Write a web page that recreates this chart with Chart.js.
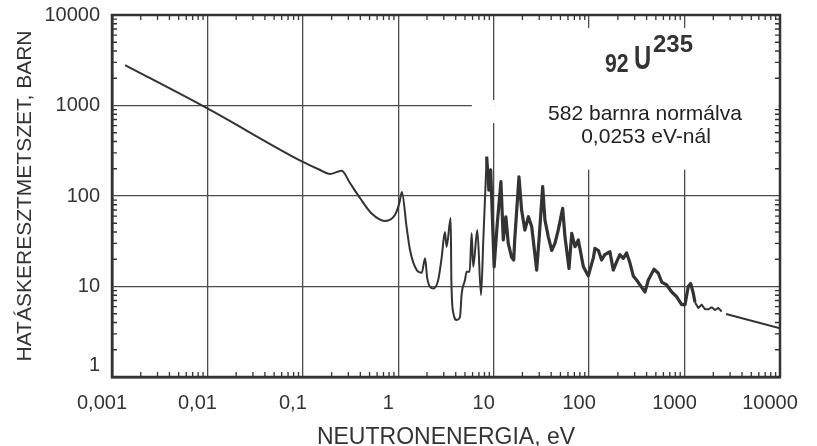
<!DOCTYPE html>
<html>
<head>
<meta charset="utf-8">
<script src="https://cdn.jsdelivr.net/npm/chart.js@4.4.0/dist/chart.umd.min.js"></script>
<style>
  html, body { margin: 0; padding: 0; background: #fff; }
  #wrap { width: 817px; height: 446px; position: relative; }
</style>
</head>
<body>
<div id="wrap"><canvas id="u235Chart"></canvas></div>
<script>
// neutron energy (eV) and cross section (barn)
// smooth low-energy part
const energyLow = [
  0.00137, 0.01, 0.1, 0.15, 0.192, 0.255, 0.312, 0.397, 0.526, 0.727, 0.925, 1.03, 1.09,
  1.22, 1.33, 1.56, 1.76, 1.91, 2.01, 2.33, 2.62, 2.85, 3.08, 3.21, 3.54, 3.6, 3.78, 4.09,
  4.43, 4.62, 5.0, 5.2, 5.6, 5.87, 6.1, 6.73, 7.36, 7.78, 8.44
];
const sigmaLow = [
  2800, 930, 238, 195, 175, 190, 139, 95, 64, 53, 62, 85, 111,
  46, 25, 15.2, 14.2, 20.5, 12.3, 9.5, 11.8, 21, 40, 27.5, 57, 11.8, 5.06, 4.27,
  4.6, 8.4, 11.8, 14.6, 14.6, 38.7, 16.5, 42, 8.06, 32.7, 272
];
// resonance region and tail
const energyHigh = [
  8.44, 8.9, 9.3, 10.1, 10.9, 11.9, 12.6, 13.4, 14.2, 15.4, 16.2, 16.6, 18.4, 19.6, 21.2,
  23.1, 25, 28.2, 30, 32.6, 34.4, 37.3, 40.5, 43.8, 47.4, 52.8, 55.8, 61.5, 65.7, 71.1,
  77, 87, 98, 111, 115, 125, 135, 146, 165, 179, 194, 210, 228, 247, 267, 290, 314, 341,
  385, 417, 478, 531, 576, 650, 733, 827, 933, 1010, 1094, 1159, 1235, 1285, 1392, 1510,
  1636, 1770, 1924, 2083, 2254, 2447, 2580, 2718, 10000
];
const sigmaHigh = [
  272, 116, 194, 16.5, 50, 144, 32.7, 59, 30, 21, 19.6, 32.7, 163, 70, 42,
  59, 46, 15.2, 35.6, 127, 54.5, 35.6, 25, 30, 42, 73, 35.6, 15.8, 38.7, 27.5,
  32.7, 16.5, 13.1, 21, 26.4, 25, 19.6, 22.5, 24.2, 15.2, 18.7, 22.5, 20.5, 23.5, 18.4, 13.1, 11.8, 10.4,
  8.7, 11.8, 15.5, 14, 11.2, 10.4, 8.7, 7.7, 6.3, 6.3, 10, 10.8, 8.4, 6.7, 5.8, 6.3,
  5.6, 5.6, 5.9, 5.5, 5.8, 5.3, null, 4.97, 3.45
];
const xTicks = [0.001, 0.01, 0.1, 1, 10, 100, 1000, 10000];
const xTickLabels = ["0,001", "0,01", "0,1", "1", "10", "100", "1000", "10000"];
const yTicks = [1, 10, 100, 1000, 10000];
const yTickLabels = ["1", "10", "100", "1000", "10000"];

const ink = "#333";
const gridInk = "#4a4a4a";
const font = "'Liberation Sans', Arial, sans-serif";

// white patch where the grid is interrupted behind the label text
const paperPlugin = {
  id: "paper",
  beforeDatasetsDraw(chart) {
    const { ctx, chartArea, scales: { x, y } } = chart;
    const x10 = x.getPixelForValue(10);
    ctx.save();
    ctx.fillStyle = "#fff";
    let top = y.getPixelForValue(7200), bot = y.getPixelForValue(195);
    ctx.fillRect(x10 + 1.5, top, chartArea.right - 1.5 - (x10 + 1.5), bot - top);
    top = y.getPixelForValue(1150);
    bot = y.getPixelForValue(640);
    const xl = x.getPixelForValue(5.9);
    ctx.fillRect(xl, top, x10 + 1.5 - xl, bot - top);
    ctx.restore();
  }
};

// box frame with small inward log ticks on all four sides, plus the labels
const framePlugin = {
  id: "frame",
  afterDatasetsDraw(chart) {
    const { ctx, chartArea: a, scales: { x, y } } = chart;
    ctx.save();
    ctx.strokeStyle = ink;
    ctx.lineWidth = 1.3;
    ctx.beginPath();
    for (let d = -3; d < 4; d++) {
      for (let m = 2; m < 10; m++) {
        const px = x.getPixelForValue(m * Math.pow(10, d));
        ctx.moveTo(px, a.bottom); ctx.lineTo(px, a.bottom - 5);
        ctx.moveTo(px, a.top); ctx.lineTo(px, a.top + 5);
      }
    }
    for (let d = 0; d < 4; d++) {
      for (let m = 2; m < 10; m++) {
        const py = y.getPixelForValue(m * Math.pow(10, d));
        ctx.moveTo(a.left, py); ctx.lineTo(a.left + 5, py);
        ctx.moveTo(a.right, py); ctx.lineTo(a.right - 5, py);
      }
    }
    ctx.stroke();
    ctx.lineWidth = 2.5;
    ctx.strokeRect(a.left, a.top, a.right - a.left, a.bottom - a.top);
    ctx.restore();
  },
  afterDraw(chart) {
    const ctx = chart.ctx;
    ctx.save();
    ctx.fillStyle = "#222";
    ctx.textAlign = "center";
    ctx.textBaseline = "alphabetic";
    ctx.font = "21px " + font;
    ctx.fillText("582 barnra normálva", 645, 120);
    ctx.fillText("0,0253 eV-nál", 646, 143);

    ctx.fillStyle = ink;
    ctx.textAlign = "left";
    const squeezed = (txt, px, left, base, sx) => {
      ctx.save();
      ctx.translate(left, base);
      ctx.scale(sx, 1);
      ctx.font = "bold " + px + "px " + font;
      ctx.fillText(txt, 0, 0);
      ctx.restore();
    };
    squeezed("92", 25, 605, 72, 0.85);
    squeezed("U", 34, 634, 69, 0.7);
    squeezed("235", 24, 653, 52, 1.0);
    ctx.restore();
  }
};

const toPoints = (xs, ys) => xs.map((e, i) => ({ x: e, y: ys[i] }));

new Chart(document.getElementById("u235Chart"), {
  type: "line",
  data: {
    datasets: [
      {
        data: toPoints(energyLow, sigmaLow),
        borderColor: ink,
        borderWidth: 2,
        pointRadius: 0,
        cubicInterpolationMode: "monotone",
      },
      {
        data: toPoints(energyHigh, sigmaHigh),
        borderColor: ink,
        borderWidth: 2,
        pointRadius: 0,
        tension: 0,
        spanGaps: false,
        borderJoinStyle: "round",
        segment: {
          borderWidth: (c) => (c.p1.parsed.x <= 1300 ? 3.2 : 2),
        },
      },
    ],
  },
  options: {
    responsive: true,
    maintainAspectRatio: false,
    animation: false,
    layout: { padding: { top: 15, right: 37, left: 0, bottom: 0 } },
    plugins: { legend: { display: false }, tooltip: { enabled: false } },
    scales: {
      x: {
        type: "logarithmic",
        min: 0.001,
        max: 10000,
        afterBuildTicks: (s) => { s.ticks = xTicks.map((v) => ({ value: v, major: true })); },
        afterFit: (s) => { s.height = 69; },
        ticks: {
          autoSkip: false,
          maxRotation: 0,
          padding: 0,
          labelOffset: -10,
          color: ink,
          font: { family: font, size: 20 },
          callback: (v, i) => xTickLabels[i],
        },
        grid: { color: gridInk, lineWidth: 1.3, drawTicks: true, tickLength: 14, tickColor: "rgba(0,0,0,0)" },
        border: { display: true, color: ink, width: 2.5 },
        title: {
          display: true,
          text: "NEUTRONENERGIA, eV",
          color: ink,
          padding: 0,
          font: { family: font, size: 23, lineHeight: 0.75 },
        },
      },
      y: {
        type: "logarithmic",
        min: 1,
        max: 10000,
        afterBuildTicks: (s) => { s.ticks = yTicks.map((v) => ({ value: v, major: true })); },
        afterFit: (s) => { s.width = 112; },
        ticks: {
          autoSkip: false,
          padding: 0,
          color: ink,
          font: { family: font, size: 20 },
          callback: (v, i) => (i === 0 ? [yTickLabels[i], ""] : yTickLabels[i]),
        },
        grid: { color: gridInk, lineWidth: 1.3, drawTicks: true, tickLength: 12, tickColor: "rgba(0,0,0,0)" },
        border: { display: true, color: ink, width: 2.5 },
        title: {
          display: true,
          text: "HATÁSKERESZTMETSZET, BARN",
          color: ink,
          padding: { top: 13, bottom: 0 },
          font: { family: font, size: 21 },
        },
      },
    },
  },
  plugins: [paperPlugin, framePlugin],
});
</script>
</body>
</html>
